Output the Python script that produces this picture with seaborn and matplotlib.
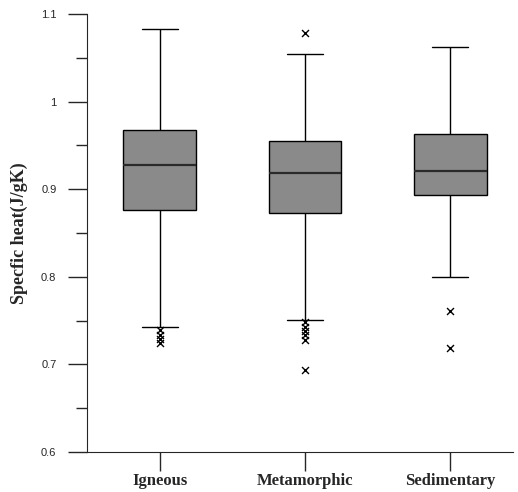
import numpy as np
import pandas as pd
import seaborn as sns
import matplotlib.pyplot as plt

# Five-number summaries
categories = ['Igneous', 'Metamorphic', 'Sedimentary']
whisker_low = [0.743, 0.751, 0.800]
q1 = [0.876, 0.873, 0.893]
median = [0.928, 0.918, 0.921]
q3 = [0.968, 0.955, 0.963]
whisker_high = [1.083, 1.054, 1.062]

# Outliers (x marks)
outliers_igneous = [0.739, 0.734, 0.729, 0.724]
outliers_metamorphic = [1.078, 0.748, 0.743, 0.738, 0.733, 0.728, 0.694]
outliers_sedimentary = [0.761, 0.719]

# Box data: with 5 points per group, the quartiles land exactly on q1/median/q3
rows = []
for i, cat in enumerate(categories):
    for v in [whisker_low[i], q1[i], median[i], q3[i], whisker_high[i]]:
        rows.append({'Type': cat, 'Value': v})
box_df = pd.DataFrame(rows)

flier_df = pd.DataFrame({
    'Type': ['Igneous'] * len(outliers_igneous)
            + ['Metamorphic'] * len(outliers_metamorphic)
            + ['Sedimentary'] * len(outliers_sedimentary),
    'Value': outliers_igneous + outliers_metamorphic + outliers_sedimentary,
})

sns.set_style('ticks')
plt.rcParams['font.family'] = ['Liberation Sans', 'DejaVu Sans']

fig = plt.figure(figsize=(5.18, 4.92), dpi=100)
ax = fig.add_axes([0.168, 0.0813, 0.822, 0.8902])

sns.boxplot(data=box_df, x='Type', y='Value', order=categories, ax=ax,
            whis=(0, 100), width=0.5, color='#8a8a8a', saturation=1,
            linecolor='black', linewidth=1.0,
            medianprops={'color': '#2a2a2a', 'linewidth': 1.6})
sns.stripplot(data=flier_df, x='Type', y='Value', order=categories, ax=ax,
              jitter=False, marker='x', color='black', size=5, linewidth=1)

ax.set_xlim(-0.5, 2.43)
ax.set_ylim(0.6, 1.1)
ax.set_yticks([0.6, 0.7, 0.8, 0.9, 1.0, 1.1])
ax.set_yticklabels(['0.6', '0.7', '0.8', '0.9', '1', '1.1'])
ax.set_yticks(np.arange(0.65, 1.1, 0.1), minor=True)
ax.tick_params(axis='y', which='major', length=14, width=1, labelsize=8, pad=8)
ax.tick_params(axis='y', which='minor', length=8, width=1)
ax.tick_params(axis='x', length=14, width=1, pad=1)
for lab in ax.get_xticklabels():
    lab.set_fontfamily('Liberation Serif')
    lab.set_fontweight('bold')
    lab.set_fontsize(12)

ax.set_xlabel('')
ax.set_ylabel('Specfic heat(J/gK)', fontfamily='Liberation Serif',
              fontweight='bold', fontsize=13, labelpad=9)
sns.despine(ax=ax)

fig.savefig('out.png', dpi=100)
